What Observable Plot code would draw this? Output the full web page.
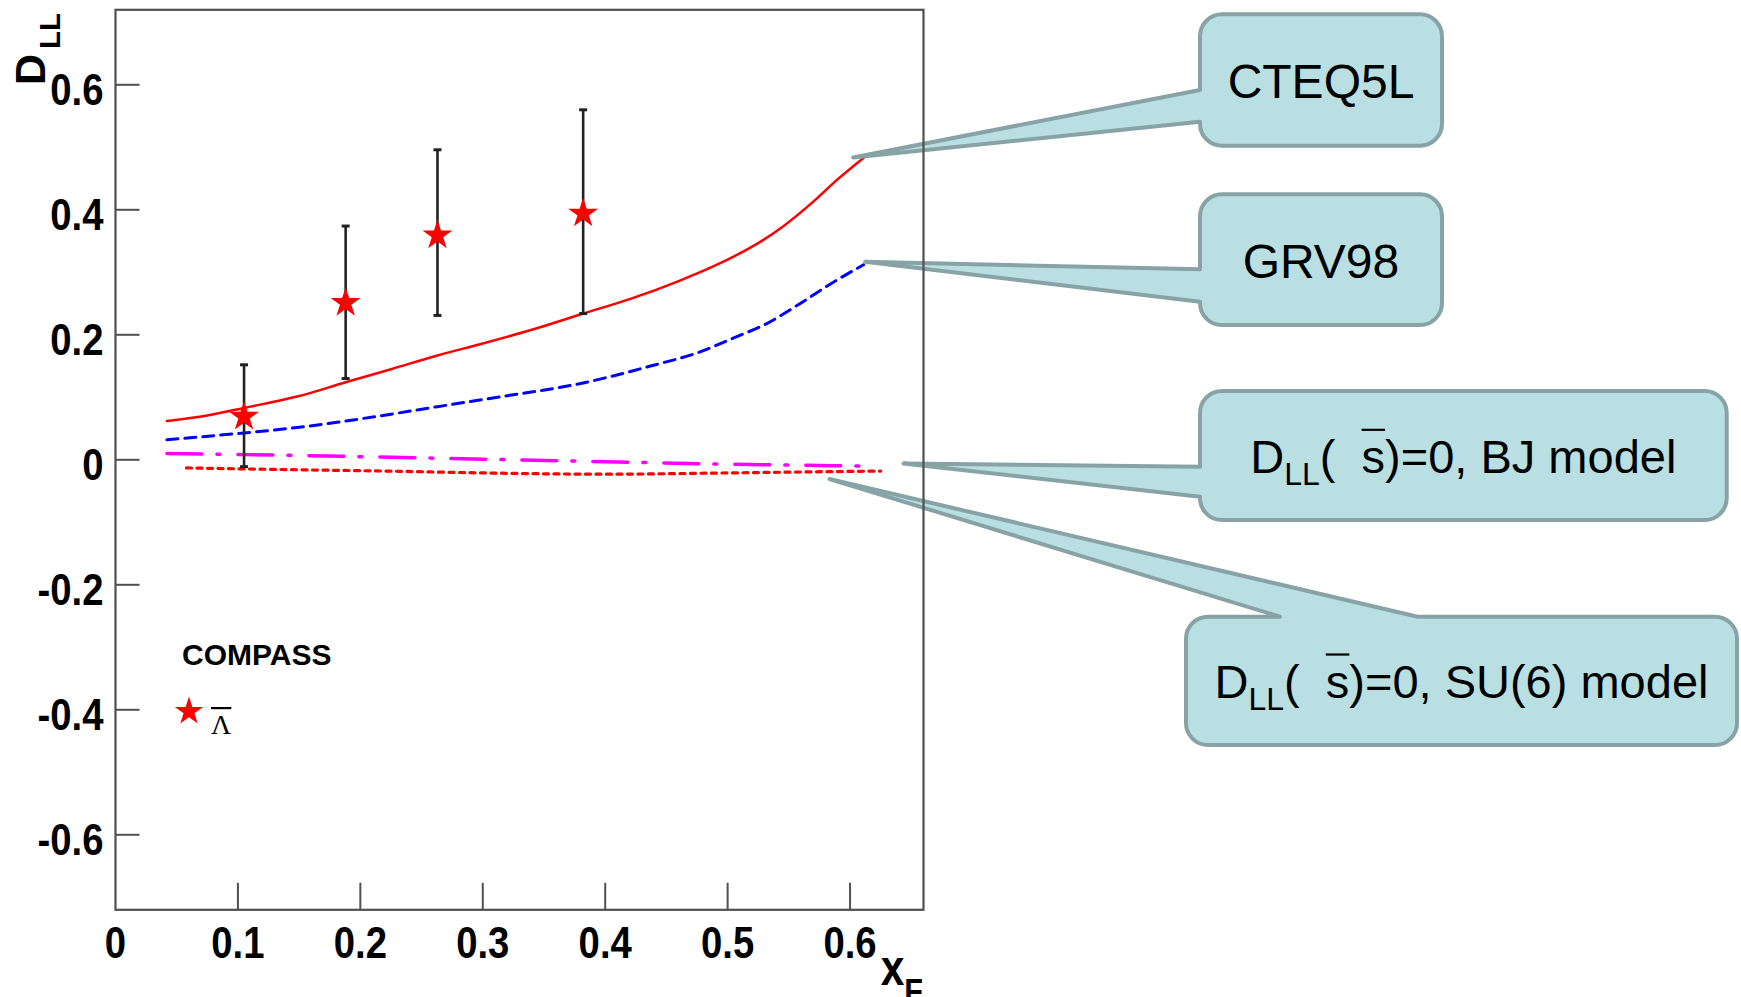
<!DOCTYPE html>
<html>
<head>
<meta charset="utf-8">
<script src="https://cdn.jsdelivr.net/npm/d3@7"></script>
<script src="https://cdn.jsdelivr.net/npm/@observablehq/plot@0.6"></script>
<style>
  html, body { margin: 0; padding: 0; background: #fff; }
  #chart svg { display: block; }
</style>
</head>
<body>
<div id="chart"></div>
<script>
// ---- COMPASS anti-Lambda measurements (x_F, D_LL) with vertical error bars
const pointX    = [0.105, 0.188, 0.263, 0.382];
const pointY    = [0.069, 0.251, 0.359, 0.394];
const pointLow  = [-0.011, 0.130, 0.231, 0.234];
const pointHigh = [0.152, 0.374, 0.496, 0.560];

// ---- Model predictions
const cteqX = [0.042, 0.075, 0.105, 0.15, 0.188, 0.225, 0.263, 0.30, 0.34, 0.382, 0.42, 0.46, 0.49, 0.52, 0.545, 0.57, 0.59, 0.611];
const cteqY = [0.062, 0.071, 0.083, 0.102, 0.124, 0.145, 0.167, 0.186, 0.208, 0.234, 0.257, 0.286, 0.311, 0.341, 0.373, 0.413, 0.449, 0.483];

const grvX = [0.042, 0.105, 0.15, 0.188, 0.225, 0.263, 0.315, 0.382, 0.437, 0.478, 0.505, 0.532, 0.56, 0.587, 0.611];
const grvY = [0.032, 0.043, 0.052, 0.062, 0.073, 0.085, 0.101, 0.123, 0.150, 0.173, 0.195, 0.218, 0.251, 0.285, 0.312];

const bjX = [0.042, 0.10, 0.20, 0.30, 0.40, 0.50, 0.61];
const bjY = [0.010, 0.0085, 0.005, 0.001, -0.003, -0.007, -0.010];

const su6X = [0.058, 0.15, 0.22, 0.30, 0.40, 0.50, 0.58, 0.625];
const su6Y = [-0.013, -0.016, -0.018, -0.021, -0.023, -0.021, -0.019, -0.018];

// ---- Axes
const xTicks = [0, 0.1, 0.2, 0.3, 0.4, 0.5, 0.6];
const xTickLabels = ["0", "0.1", "0.2", "0.3", "0.4", "0.5", "0.6"];
const yTicks = [-0.6, -0.4, -0.2, 0, 0.2, 0.4, 0.6];
const yTickLabels = ["-0.6", "-0.4", "-0.2", "0", "0.2", "0.4", "0.6"];
const xTitle = "x_{F}";
const yTitle = "D_{LL}";

// ---- Legend
const legendTitle = "COMPASS";
const legendEntry = "\\bar{Λ}";

// ---- Callout labels and the points they point at (data units)
const calloutLabels = ["CTEQ5L", "GRV98", "D_{LL}(  \\bar{s})=0, BJ model", "D_{LL}(  \\bar{s})=0, SU(6) model"];
const calloutTipX = [0.603, 0.6127, 0.644, 0.5836];
const calloutTipY = [0.483, 0.316, -0.0066, -0.0316];

// ---- Layout (pixels)
const W = 1741, H = 997;
const calloutBoxes = [
  {left: 1200, top: 14.3,  right: 1442,   bottom: 145.7, side: "left", base: [90, 121.7],    baseline: 98.3, size: 48},
  {left: 1200, top: 194.3, right: 1442,   bottom: 325,   side: "left", base: [269.3, 301.7], baseline: 278,  size: 48},
  {left: 1200, top: 391,   right: 1726.7, bottom: 520,   side: "left", base: [466.7, 496.7], baseline: 473.3, size: 47},
  {left: 1186, top: 616.7, right: 1737,   bottom: 745,   side: "top",  base: [1280, 1417.6], baseline: 698,  size: 47}
];
const sansFont = "'Liberation Sans', Arial, sans-serif";
const axisGrey = "#505050";
const condensed = 0.87;   // horizontal squeeze of the axis lettering

const points = pointX.map((x, i) => ({x, y: pointY[i], lo: pointLow[i], hi: pointHigh[i]}));
const series = (xs, ys) => xs.map((x, i) => ({x, y: ys[i]}));

// Plot symbol sizes are r²π; these symbols take r back as a length in pixels
const len = (size) => Math.sqrt(size / Math.PI);
const capSymbol = {draw(c, s) { const r = len(s); c.moveTo(-r, 0); c.lineTo(r, 0); }};   // error-bar cap
const tickRight = {draw(c, s) { c.moveTo(0, 0); c.lineTo(len(s), 0); }};                // inward y tick
const tickUp    = {draw(c, s) { c.moveTo(0, 0); c.lineTo(0, -len(s)); }};               // inward x tick

// Tiny markup: _{...} subscript, \bar{...} overline (bar drawn once laid out)
const markup = /_\{([^}]*)\}|\\bar\{([^}]*)\}|([^_\\]+)/g;
function richText(text, str, base, subScale, subShift, subDx = 0) {
  let down = 0;
  for (const m of str.matchAll(markup)) {
    const span = text.append("tspan");
    const shift = m[1] !== undefined ? subShift * base : 0;
    if (shift !== down) span.attr("dy", shift - down);
    down = shift;
    if (m[1] !== undefined) span.attr("font-size", subScale * base).attr("dx", subDx || null).text(m[1]);
    else if (m[2] !== undefined) span.attr("class", "over").text(m[2]);
    else span.text(m[3]);
  }
}

// Thin bar over each \bar{} run, placed from the laid-out glyph positions
function drawOverlines(root) {
  root.selectAll("tspan.over").each(function() {
    const n = this.getNumberOfChars();
    if (!n) return;
    const a = this.getStartPositionOfChar(0);
    const b = this.getEndPositionOfChar(n - 1);
    const text = this.closest("text");
    const fs = parseFloat(getComputedStyle(text).fontSize);
    const y = a.y - 0.925 * fs;
    d3.select(text.parentNode).append("line")
      .attr("transform", text.getAttribute("transform"))
      .attr("x1", a.x).attr("x2", b.x)
      .attr("y1", y).attr("y2", y)
      .attr("stroke", "#000")
      .attr("stroke-width", 2.2);
  });
}

// Squeeze a text element horizontally about its own anchor point
function condense(el, s) {
  const x = +el.getAttribute("x") || 0, y = +el.getAttribute("y") || 0;
  const t = el.getAttribute("transform") || "";
  el.setAttribute("transform", `${t} translate(${x},${y}) scale(${s},1) translate(${-x},${-y})`);
}

function calloutPath(b, tx, ty, r = 22) {
  const {left: L, top: T, right: R, bottom: B} = b;
  const arc = (x, y) => `A${r},${r} 0 0 1 ${x},${y}`;
  if (b.side === "left") {
    const [b1, b2] = b.base;
    return `M${L + r},${T}H${R - r}${arc(R, T + r)}V${B - r}${arc(R - r, B)}H${L + r}${arc(L, B - r)}` +
           `V${b2}L${tx},${ty}L${L},${b1}V${T + r}${arc(L + r, T)}Z`;
  }
  const [a1, a2] = b.base;
  return `M${L + r},${T}H${a1}L${tx},${ty}L${a2},${T}H${R - r}${arc(R, T + r)}V${B - r}${arc(R - r, B)}` +
         `H${L + r}${arc(L, B - r)}V${T + r}${arc(L + r, T)}Z`;
}

// Callout boxes whose pointers are anchored through the x/y scales
function callouts(index, scales) {
  const g = d3.create("svg:g");
  calloutLabels.forEach((label, i) => {
    const b = calloutBoxes[i];
    g.append("path")
      .attr("d", calloutPath(b, scales.x(calloutTipX[i]), scales.y(calloutTipY[i])))
      .attr("fill", "#b9dfe2")
      .attr("stroke", "#87a3a5")
      .attr("stroke-width", 4)
      .attr("stroke-linejoin", "round");
    const t = g.append("text")
      .attr("x", (b.left + b.right) / 2)
      .attr("y", b.baseline)
      .attr("text-anchor", "middle")
      .attr("font-family", sansFont)
      .attr("font-size", b.size)
      .attr("fill", "#000")
      .attr("xml:space", "preserve")
      .style("white-space", "pre");
    richText(t, label, b.size, 0.68, 0.255);
  });
  return g.node();
}

const chart = Plot.plot({
  width: W,
  height: H,
  marginLeft: 115,
  marginRight: 818,
  marginTop: 9.3,
  marginBottom: 87.7,
  style: {background: "#fff", overflow: "hidden"},
  x: {domain: [0, 0.66], axis: null},
  y: {domain: [-0.72, 0.72], axis: null},
  marks: [
    Plot.line(series(su6X, su6Y), {x: "x", y: "y", curve: "monotone-x", stroke: "#ff0000", strokeWidth: 3.2, strokeDasharray: "5,5.5"}),
    Plot.line(series(bjX, bjY), {x: "x", y: "y", curve: "monotone-x", stroke: "#ff00ff", strokeWidth: 3.5, strokeDasharray: "35,15,3,18"}),
    Plot.line(series(grvX, grvY), {x: "x", y: "y", curve: "monotone-x", stroke: "#0000ff", strokeWidth: 3, strokeDasharray: "11,7"}),
    Plot.line(series(cteqX, cteqY), {x: "x", y: "y", curve: "monotone-x", stroke: "#ff0000", strokeWidth: 2.5}),
    Plot.ruleX(points, {x: "x", y1: "lo", y2: "hi", stroke: "#222", strokeWidth: 2.6}),
    Plot.dot(points, {x: "x", y: "lo", symbol: capSymbol, r: 4, fill: "none", stroke: "#222", strokeWidth: 3}),
    Plot.dot(points, {x: "x", y: "hi", symbol: capSymbol, r: 4, fill: "none", stroke: "#222", strokeWidth: 3}),
    Plot.dot(points, {x: "x", y: "y", symbol: "star", r: 9.4, fill: "#ff0000", stroke: "none"}),
    // legend marker
    Plot.dot([legendTitle], {frameAnchor: "top-left", dx: 73.5, dy: 701.7, symbol: "star", r: 8.9, fill: "#ff0000", stroke: "none"}),
    callouts,
    Plot.frame({stroke: axisGrey, strokeWidth: 2.2}),
    // inward ticks
    Plot.dot(yTicks, {y: (d) => d, frameAnchor: "left", symbol: tickRight, r: 24, fill: "none", stroke: axisGrey, strokeWidth: 2}),
    Plot.dot(xTicks.slice(1), {x: (d) => d, frameAnchor: "bottom", symbol: tickUp, r: 27, fill: "none", stroke: axisGrey, strokeWidth: 2}),
    // tick labels
    Plot.text(yTicks, {
      y: (d) => d, frameAnchor: "left", textAnchor: "end", dx: -12, dy: 6,
      text: (d, i) => yTickLabels[i],
      fontSize: 44, fontWeight: "bold", fontFamily: sansFont, fill: "#000"
    }),
    Plot.text(xTicks, {
      x: (d) => d, frameAnchor: "bottom", lineAnchor: "top", dy: 17,
      text: (d, i) => xTickLabels[i],
      fontSize: 44, fontWeight: "bold", fontFamily: sansFont, fill: "#000"
    })
  ]
});

const svg = d3.select(chart);

// the axis lettering is narrower than plain Helvetica bold
const tickLabelSet = new Set([...xTickLabels, ...yTickLabels]);
svg.selectAll("text")
  .filter(function() { return tickLabelSet.has(this.textContent); })
  .each(function() { condense(this, condensed); });

// y-axis title, reading upwards at the top left
const yt = svg.append("text")
  .attr("transform", "translate(45,85) rotate(-90)")
  .attr("text-anchor", "start")
  .attr("font-family", sansFont)
  .attr("font-weight", "bold")
  .attr("font-size", 43)
  .attr("fill", "#000");
richText(yt, yTitle, 43, 0.68, 0.35, 5);

// x-axis title at the bottom right
const xt = svg.append("text")
  .attr("x", 923)
  .attr("y", 985)
  .attr("text-anchor", "end")
  .attr("font-family", sansFont)
  .attr("font-weight", "bold")
  .attr("font-size", 50)
  .attr("fill", "#000");
richText(xt, xTitle, 50, 0.72, 0.36);
condense(xt.node(), 0.85);

// legend text
svg.append("text")
  .attr("x", 182)
  .attr("y", 665)
  .attr("text-anchor", "start")
  .attr("font-family", sansFont)
  .attr("font-weight", "bold")
  .attr("font-size", 30)
  .attr("fill", "#000")
  .text(legendTitle);
const lt = svg.append("text")
  .attr("x", 211)
  .attr("y", 734)
  .attr("text-anchor", "start")
  .attr("font-family", "'Liberation Serif', 'Times New Roman', serif")
  .attr("font-size", 28)
  .attr("fill", "#000");
richText(lt, legendEntry, 28, 0.7, 0.3);

document.getElementById("chart").appendChild(chart);
drawOverlines(svg);
</script>
</body>
</html>
